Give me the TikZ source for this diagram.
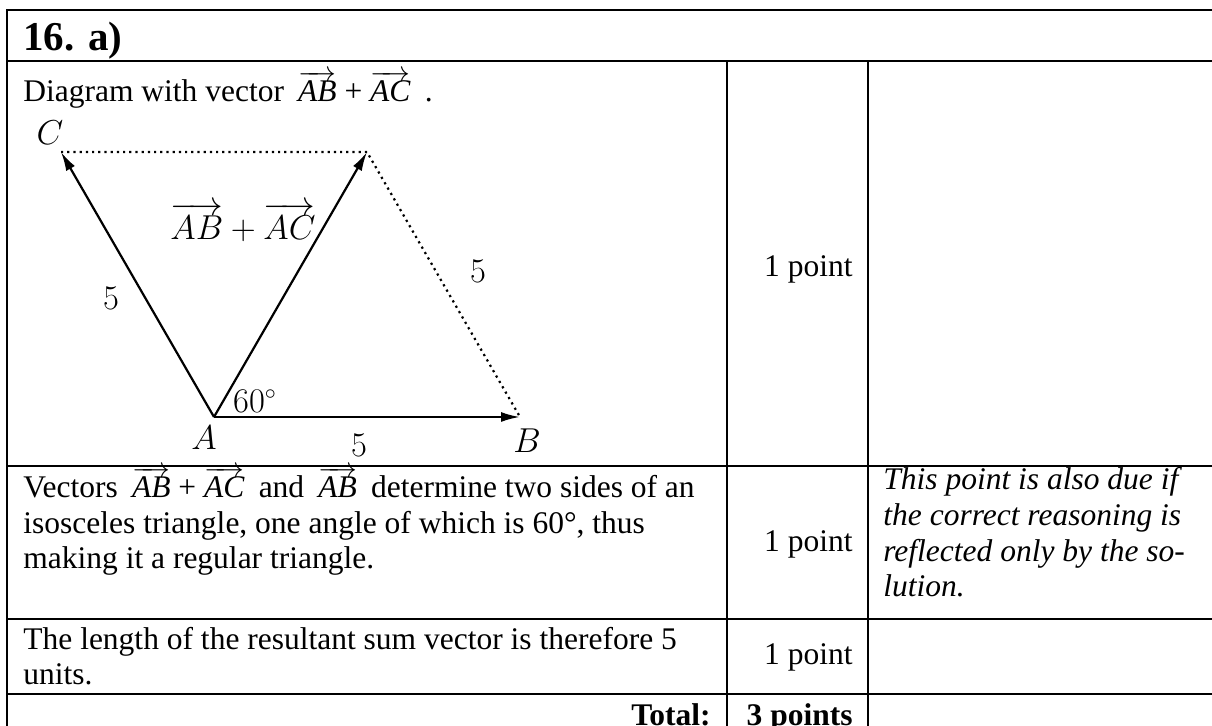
\documentclass[tikz,border=0pt]{standalone}
\usepackage{amsmath}
\usepackage[no-math]{fontspec}
\setmainfont{Liberation Serif}
\usepackage{tikz}
\usetikzlibrary{arrows.meta,positioning,calc}

\newcommand{\vecTxt}[1]{\ensuremath{\smash[t]{\overrightarrow{\raisebox{0pt}[0.58em][0pt]{\itshape #1\/}}}}}
\newcommand{\eqgap}{\hspace{0.2em}}

\begin{document}
\begin{tikzpicture}[
  x=0.5pt,y=-0.5pt,
  rule/.style={draw=black,line width=1.3pt},
  txt/.style={font=\fontsize{15.75}{17.75}\selectfont,inner sep=0pt},
  txtit/.style={font=\fontsize{15.75}{17.85}\selectfont\itshape,inner sep=0pt},
  txtbf/.style={font=\fontsize{15.75}{17.75}\selectfont\bfseries,inner sep=0pt},
  hdr/.style={font=\fontsize{20.5}{24}\selectfont\bfseries,inner sep=0pt},
  lbl/.style={font=\fontsize{16}{18}\selectfont,inner sep=0pt},
  vec/.style={-{Latex[length=9.5pt,width=5pt]},line width=1.1pt},
  aux/.style={dotted,line width=1.1pt}]

\useasboundingbox (0,0) rectangle (1212,726);

% table grid
\draw[rule] (1212,10) -- (7,10) -- (7,726);
\draw[rule] (7,61) -- (1212,61);
\draw[rule] (7,466) -- (1212,466);
\draw[rule] (7,619) -- (1212,619);
\draw[rule] (7,694) -- (1212,694);
\draw[rule] (727,61) -- (727,726);
\draw[rule] (868,61) -- (868,726);

\node[hdr,anchor=base west] (title) at (23,51) {16. a)};

% row 1: the diagram
\node[txt,anchor=base west] (intro) at (23,102)
  {Diagram with vector \eqgap\vecTxt{AB} + \vecTxt{AC}\eqgap{} .};
\node[txt,anchor=base east] (pt1) at (853,277) {1 point};

\coordinate (A) at (214,417);
\coordinate (B) at (520,417);
\coordinate (C) at (61,152);
\coordinate (D) at ($(B)+(C)-(A)$);

\draw[aux] (C) -- (D) -- (B);
\draw[vec] (A) -- (B);
\draw[vec] (A) -- (C);
\draw[vec] (A) -- (D);

\node[lbl] (labC) at (50,133) {$C$};
\node[lbl] (labA) at (204,438) {$A$};
\node[lbl] (labB) at (527,441) {$B$};
\node[lbl] (lenAB) at (359,445) {$5$};
\node[lbl] (lenAC) at (111,298) {$5$};
\node[lbl] (lenDB) at (478,271) {$5$};
\node[lbl] (sumlab) at (243,222) {$\overrightarrow{AB}+\overrightarrow{AC}$};
\node[lbl] (angle) at (255,401) {$60^\circ$};

% row 2 (multi-line nodes sit on their last line)
\node[txt,anchor=base west,align=left] (reason) at (23,569)
  {Vectors \eqgap\vecTxt{AB} + \vecTxt{AC}\eqgap{} and \eqgap\vecTxt{AB}\eqgap{} determine two sides of an\\
   isosceles triangle, one angle of which is 60°, thus\\
   making it a regular triangle.};
\node[txt,anchor=base east] (pt2) at (853,552) {1 point};
\node[txtit,anchor=base west,align=left] (note) at (883,597)
  {This point is also due if\\the correct reasoning is\\reflected only by the so-\\lution.};

% row 3
\node[txt,anchor=base west,align=left] (result) at (23,685)
  {The length of the resultant sum vector is therefore 5\\units.};
\node[txt,anchor=base east] (pt3) at (853,665) {1 point};

% total
\node[txtbf,anchor=base east] (total) at (711,726) {Total:};
\node[txtbf,anchor=base east] (sumpts) at (853,726) {3 points};
\end{tikzpicture}
\end{document}
